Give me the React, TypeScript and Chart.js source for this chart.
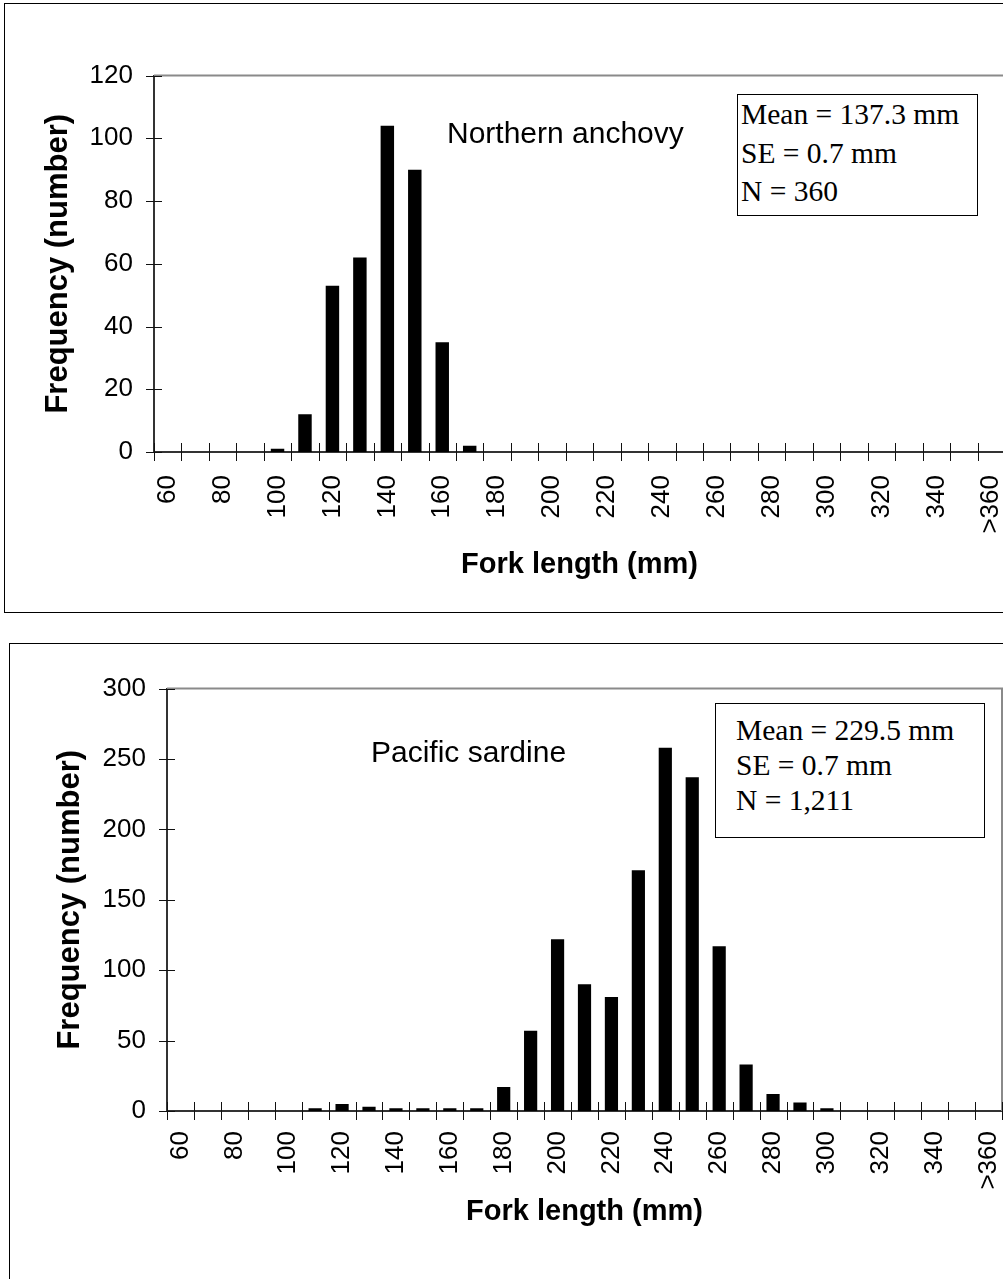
import React, { useEffect, useRef } from 'react';
import { Chart, registerables } from 'chart.js';

Chart.register(...registerables);

// Fork-length classes (mm)
const categories = [
  '60', '70', '80', '90', '100', '110', '120', '130', '140', '150',
  '160', '170', '180', '190', '200', '210', '220', '230', '240', '250',
  '260', '270', '280', '290', '300', '310', '320', '330', '340', '350', '>360',
];

// Northern anchovy frequency per class
const anchovyFreq = [
  0, 0, 0, 0, 1, 12, 53, 62, 104, 90,
  35, 2, 0, 0, 0, 0, 0, 0, 0, 0,
  0, 0, 0, 0, 0, 0, 0, 0, 0, 0, 0,
];

// Pacific sardine frequency per class
const sardineFreq = [
  0, 0, 0, 0, 0, 2, 5, 3, 2, 2,
  2, 2, 17, 57, 122, 90, 81, 171, 258, 237,
  117, 33, 12, 6, 2, 0, 0, 0, 0, 0, 0,
];

const anchovyStats = ['Mean = 137.3 mm', 'SE = 0.7 mm', 'N = 360'];
const sardineStats = ['Mean = 229.5 mm', 'SE = 0.7 mm', 'N = 1,211'];

const xTitle = 'Fork length (mm)';
const yTitle = 'Frequency (number)';

const SANS = '"Liberation Sans", Arial, sans-serif';
const SERIF = '"Liberation Serif", "Times New Roman", serif';

const framePlugin = {
  id: 'frameTicks',
  beforeDatasetsDraw(chart: any) {
    const { ctx, chartArea: a, scales } = chart;
    const x = scales.x;
    const y = scales.y;
    ctx.save();
    // plot-area border (top and right), gray
    ctx.strokeStyle = '#8a8a8a';
    ctx.lineWidth = 2;
    ctx.beginPath();
    ctx.moveTo(a.left, a.top);
    ctx.lineTo(a.right, a.top);
    ctx.lineTo(a.right, a.bottom);
    ctx.stroke();
    // crossing tick marks
    ctx.strokeStyle = '#111';
    ctx.lineWidth = 1;
    ctx.beginPath();
    const n = chart.data.labels.length;
    for (let i = 0; i <= n; i++) {
      const px = Math.round(x.getPixelForValue(i - 0.5)) + 0.5;
      ctx.moveTo(px, a.bottom - 9);
      ctx.lineTo(px, a.bottom + 9);
    }
    y.ticks.forEach((t: any) => {
      const py = Math.round(y.getPixelForValue(t.value)) + 0.5;
      ctx.moveTo(a.left - 8, py);
      ctx.lineTo(a.left + 8, py);
    });
    ctx.stroke();
    ctx.restore();
  },
};

interface Dims {
  width: number;
  height: number;
  areaLeft: number;
  areaTop: number;
  areaRight: number;
  areaBottom: number;
  yTitleCenter: number;
  xTitleCenter: number;
  yTickGap: number;
  xTickGap: number;
}

function makeConfig(values: number[], yMax: number, yStep: number, d: Dims): any {
  const xTitleFont = { family: SANS, size: 29, weight: 'bold' as const, lineHeight: 1.2 };
  const yTitleFont = { family: SANS, size: 31, weight: 'bold' as const, lineHeight: 1.2 };
  const tickFont = { family: SANS, size: 26, lineHeight: 1.2 };
  const halfX = (29 * 1.2) / 2;
  const halfY = (31 * 1.2) / 2;
  return {
    type: 'bar',
    data: {
      labels: categories,
      datasets: [
        {
          data: values,
          backgroundColor: '#000',
          borderWidth: 0,
          categoryPercentage: 1,
          barPercentage: 0.49,
        },
      ],
    },
    options: {
      responsive: false,
      animation: false,
      devicePixelRatio: 1,
      layout: {
        padding: {
          left: 0,
          top: d.areaTop,
          right: d.width - d.areaRight,
          bottom: 0,
        },
      },
      plugins: {
        legend: { display: false },
        tooltip: { enabled: false },
        title: { display: false },
      },
      scales: {
        x: {
          type: 'category',
          offset: true,
          grid: { display: false, drawTicks: false },
          border: { display: true, color: '#333', width: 2 },
          ticks: {
            autoSkip: false,
            minRotation: 90,
            maxRotation: 90,
            padding: d.xTickGap,
            color: '#000',
            font: tickFont,
            callback: (_v: any, i: number) => (i % 2 === 0 ? categories[i] : ''),
          },
          title: {
            display: true,
            text: xTitle,
            color: '#000',
            font: xTitleFont,
            padding: { top: 0, bottom: d.height - d.xTitleCenter - halfX },
          },
          afterFit: (s: any) => {
            s.height = d.height - d.areaBottom;
            s.paddingLeft = 0;
            s.paddingRight = 0;
          },
        },
        y: {
          min: 0,
          max: yMax,
          grid: { display: false, drawTicks: false },
          border: { display: true, color: '#333', width: 2 },
          ticks: {
            stepSize: yStep,
            padding: d.yTickGap,
            color: '#000',
            font: tickFont,
          },
          title: {
            display: true,
            text: yTitle,
            color: '#000',
            font: yTitleFont,
            padding: { top: d.yTitleCenter - halfY, bottom: 0 },
          },
          afterFit: (s: any) => {
            s.width = d.areaLeft;
          },
        },
      },
    },
    plugins: [framePlugin],
  };
}

function BarCanvas(props: { values: number[]; yMax: number; yStep: number; dims: Dims; top: number }) {
  const ref = useRef<HTMLCanvasElement | null>(null);
  useEffect(() => {
    if (!ref.current) return;
    const chart = new Chart(ref.current, makeConfig(props.values, props.yMax, props.yStep, props.dims));
    return () => chart.destroy();
  }, []);
  return (
    <canvas
      ref={ref}
      width={props.dims.width}
      height={props.dims.height}
      style={{ position: 'absolute', left: 0, top: props.top, width: props.dims.width, height: props.dims.height }}
    />
  );
}

const topDims: Dims = {
  width: 1010,
  height: 612,
  areaLeft: 154,
  areaTop: 75.5,
  areaRight: 1005,
  areaBottom: 452,
  yTitleCenter: 58,
  xTitleCenter: 565,
  yTickGap: 21,
  xTickGap: 23,
};

const bottomDims: Dims = {
  width: 1010,
  height: 664,
  areaLeft: 167,
  areaTop: 73.5,
  areaRight: 1002,
  areaBottom: 496,
  yTitleCenter: 70,
  xTitleCenter: 597,
  yTickGap: 21,
  xTickGap: 20,
};

export default function App() {
  const boxBorder = '1.5px solid #000';
  return (
    <div style={{ position: 'absolute', left: 0, top: 0, width: 1003, height: 1279, overflow: 'hidden', background: '#fff' }}>
      <div style={{ position: 'absolute', left: 4, top: 3, width: 1100, height: 610, border: boxBorder, boxSizing: 'border-box' }} />
      <div style={{ position: 'absolute', left: 9, top: 643, width: 1100, height: 700, border: boxBorder, boxSizing: 'border-box' }} />

      <BarCanvas values={anchovyFreq} yMax={120} yStep={20} dims={topDims} top={0} />
      <BarCanvas values={sardineFreq} yMax={300} yStep={50} dims={bottomDims} top={615} />

      <div style={{ position: 'absolute', left: 447, top: 118, font: `30px ${SANS}`, lineHeight: '30px', color: '#000', whiteSpace: 'nowrap' }}>
        Northern anchovy
      </div>
      <div style={{ position: 'absolute', left: 371, top: 737, font: `30px ${SANS}`, lineHeight: '30px', color: '#000', whiteSpace: 'nowrap' }}>
        Pacific sardine
      </div>

      <div
        style={{
          position: 'absolute', left: 737, top: 94, width: 241, height: 122, border: boxBorder, boxSizing: 'border-box',
          background: '#fff', font: `29.5px ${SERIF}`, lineHeight: '38.5px', paddingLeft: 3, paddingTop: 0, color: '#000', whiteSpace: 'nowrap',
        }}
      >
        {anchovyStats.map((s) => (
          <div key={s}>{s}</div>
        ))}
      </div>
      <div
        style={{
          position: 'absolute', left: 715, top: 703, width: 270, height: 135, border: boxBorder, boxSizing: 'border-box',
          background: '#fff', font: `29.5px ${SERIF}`, lineHeight: '35px', paddingLeft: 20, paddingTop: 9, color: '#000', whiteSpace: 'nowrap',
        }}
      >
        {sardineStats.map((s) => (
          <div key={s}>{s}</div>
        ))}
      </div>
    </div>
  );
}
